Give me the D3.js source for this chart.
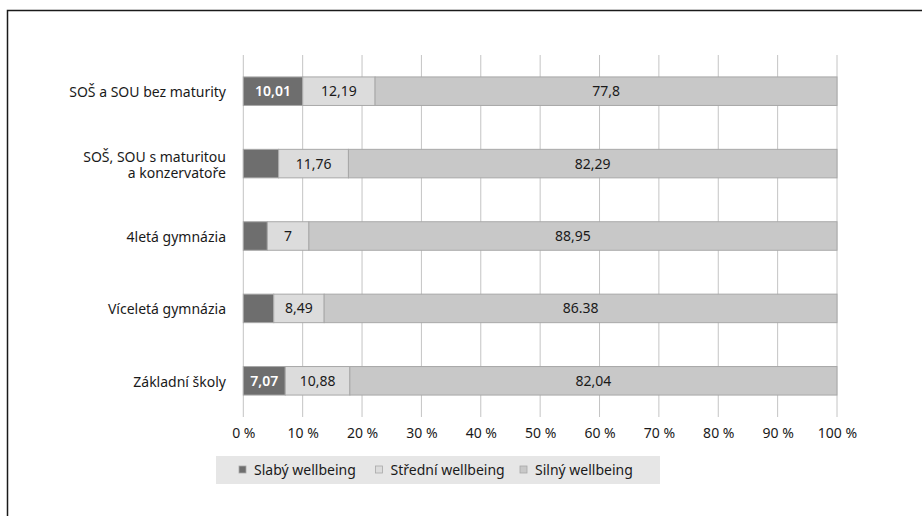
<!DOCTYPE html>
<html>
<head>
<meta charset="utf-8">
<script src="https://cdn.jsdelivr.net/npm/d3@7"></script>
<style>
  html, body { margin: 0; padding: 0; background: #fff; }
  svg { display: block; }
  text { font-family: "Noto Sans", "Open Sans", sans-serif; }
</style>
</head>
<body>
<svg id="chart" width="922" height="516"></svg>
<script>
// School types (top to bottom)
const categories = [
  "SOŠ a SOU bez maturity",
  "SOŠ, SOU s maturitou\na konzervatoře",
  "4letá gymnázia",
  "Víceletá gymnázia",
  "Základní školy"
];
const seriesNames = ["Slabý wellbeing", "Střední wellbeing", "Silný wellbeing"];

// Percent shares per school type
const slaby   = [10.01, 5.95, 4.05, 5.13, 7.07];
const stredni = [12.19, 11.76, 7, 8.49, 10.88];
const silny   = [77.8, 82.29, 88.95, 86.38, 82.04];

// Printed value labels (null = not printed)
const slabyLabels   = ["10,01", null, null, null, "7,07"];
const stredniLabels = ["12,19", "11,76", "7", "8,49", "10,88"];
const silnyLabels   = ["77,8", "82,29", "88,95", "86.38", "82,04"];

const xTicks = [0, 10, 20, 30, 40, 50, 60, 70, 80, 90, 100];

const colors = ["#6e6e6e", "#dcdcdc", "#c8c8c8"];
const labelColors = ["#ffffff", "#1a1a1a", "#1a1a1a"];
const FS = 14;

const svg = d3.select("#chart");

// outer frame (open on the right)
svg.append("path")
  .attr("d", "M7.5,516 L7.5,10.5 L922,10.5")
  .attr("fill", "none")
  .attr("stroke", "#1a1a1a")
  .attr("stroke-width", 1.5);

const x = d3.scaleLinear().domain([0, 100]).range([243.3, 837]);
const y = d3.scaleBand().domain(categories).range([55, 417])
  .paddingInner(0.606).paddingOuter(0.303);

// vertical gridlines
svg.append("g")
  .selectAll("line")
  .data(xTicks)
  .join("line")
  .attr("x1", d => x(d)).attr("x2", d => x(d))
  .attr("y1", 55).attr("y2", 417)
  .attr("stroke", "#c4c4c4")
  .attr("stroke-width", 1);

// x axis labels
const xAxis = d3.axisBottom(x).tickValues(xTicks).tickSize(0).tickPadding(0)
  .tickFormat(d => d + " %");
svg.append("g")
  .attr("transform", "translate(0,428)")
  .call(xAxis)
  .call(g => g.select(".domain").remove())
  .call(g => g.selectAll("text")
    .attr("font-family", "Noto Sans, Open Sans, sans-serif")
    .attr("font-size", FS)
    .attr("fill", "#1a1a1a"));

// stacked data
const rows = categories.map((c, i) => ({ cat: c, vals: [slaby[i], stredni[i], silny[i]],
  labels: [slabyLabels[i], stredniLabels[i], silnyLabels[i]] }));

const segs = [];
rows.forEach(r => {
  let acc = 0;
  r.vals.forEach((v, k) => {
    segs.push({ cat: r.cat, k, x0: acc, x1: acc + v, label: r.labels[k] });
    acc += v;
  });
});

svg.append("g")
  .selectAll("rect")
  .data(segs)
  .join("rect")
  .attr("x", d => x(d.x0))
  .attr("y", d => y(d.cat))
  .attr("width", d => x(d.x1) - x(d.x0))
  .attr("height", y.bandwidth())
  .attr("fill", d => colors[d.k])
  .attr("stroke", "#a8a8a8")
  .attr("stroke-width", 1);

svg.append("g")
  .selectAll("text")
  .data(segs.filter(d => d.label))
  .join("text")
  .attr("x", d => (x(d.x0) + x(d.x1)) / 2)
  .attr("y", d => y(d.cat) + y.bandwidth() / 2)
  .attr("dy", "0.35em")
  .attr("text-anchor", "middle")
  .attr("font-size", FS)
  .attr("font-weight", d => d.k === 0 ? 600 : 400)
  .attr("fill", d => labelColors[d.k])
  .text(d => d.label);

// category labels
const catG = svg.append("g");
categories.forEach(c => {
  const lines = c.split("\n");
  const cy = y(c) + y.bandwidth() / 2;
  lines.forEach((ln, j) => {
    catG.append("text")
      .attr("text-anchor", "end")
      .attr("font-size", FS)
      .attr("fill", "#1a1a1a")
      .attr("x", 226)
      .attr("y", cy + 1 + (j - (lines.length - 1) / 2) * 16)
      .attr("dy", "0.35em")
      .text(ln);
  });
});

// legend
const lg = svg.append("g");
lg.append("rect")
  .attr("x", 216).attr("y", 456).attr("width", 444).attr("height", 28)
  .attr("fill", "#e6e6e6");
const legendX = [239, 375.5, 520];
seriesNames.forEach((n, k) => {
  lg.append("rect")
    .attr("x", legendX[k]).attr("y", 466)
    .attr("width", 7).attr("height", 7)
    .attr("fill", colors[k])
    .attr("stroke", "#a8a8a8").attr("stroke-width", 0.8);
  lg.append("text")
    .attr("x", legendX[k] + 15).attr("y", 470)
    .attr("dy", "0.35em")
    .attr("font-size", FS)
    .attr("fill", "#1a1a1a")
    .text(n);
});
</script>
</body>
</html>
